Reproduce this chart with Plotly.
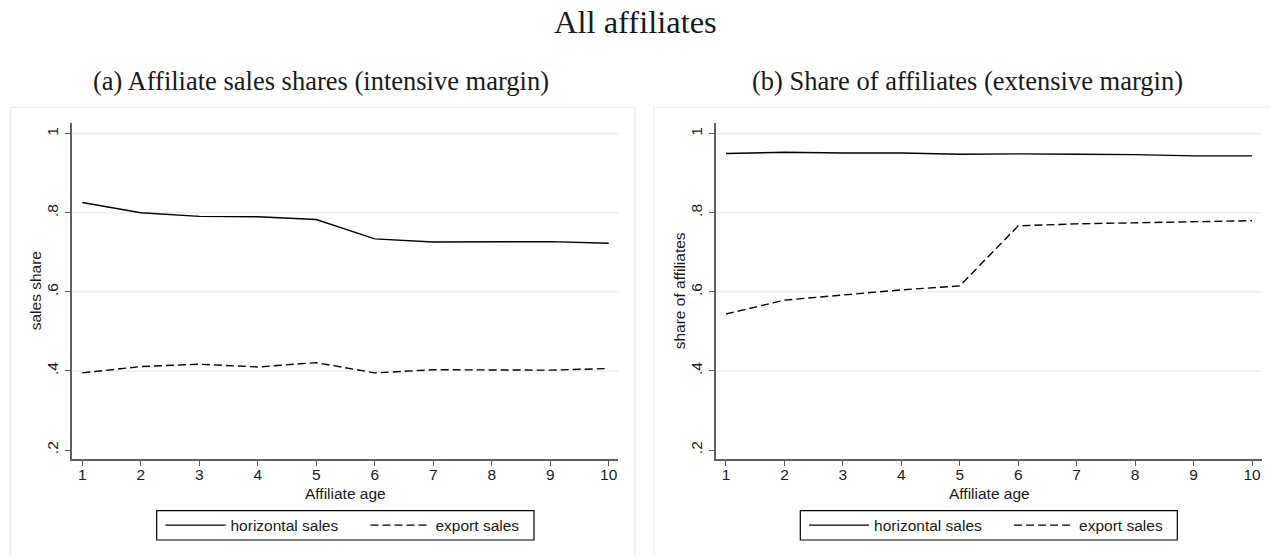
import plotly.graph_objects as go

# ---------------- data ----------------
ages = [1, 2, 3, 4, 5, 6, 7, 8, 9, 10]
sales_horizontal = [0.826, 0.800, 0.791, 0.790, 0.783, 0.734, 0.726, 0.726, 0.727, 0.723]
sales_export = [0.395, 0.411, 0.417, 0.410, 0.421, 0.395, 0.403, 0.402, 0.402, 0.406]
aff_horizontal = [0.950, 0.953, 0.951, 0.951, 0.948, 0.949, 0.948, 0.947, 0.944, 0.944]
aff_export = [0.544, 0.579, 0.592, 0.605, 0.615, 0.767, 0.772, 0.775, 0.777, 0.780]
series_names = ["horizontal sales", "export sales"]
y_ticks = [0.2, 0.4, 0.6, 0.8, 1.0]
y_tick_labels = [".2", ".4", ".6", ".8", "1"]
x_ticks = ages
main_title = "All affiliates"
panel_titles = ["(a) Affiliate sales shares (intensive margin)",
                "(b) Share of affiliates (extensive margin)"]
y_titles = ["sales share", "share of affiliates"]
x_title = "Affiliate age"

# ---------------- layout helpers ----------------
W, H = 1270, 556
def px(x):
    return x / W
def py(y):
    return 1 - y / H

SANS = "Liberation Sans"
SERIF = "Liberation Serif"
AXC = "#5f5f5f"
GRID = "#e8efef"
TXT = "#1a1a1a"
FS = 15.5
DASH = "8px,4px"

fig = go.Figure()

panels = [
    dict(xa="x", ya="y", leg="legend", h=sales_horizontal, e=sales_export),
    dict(xa="x2", ya="y2", leg="legend2", h=aff_horizontal, e=aff_export),
]
for p in panels:
    fig.add_trace(go.Scatter(x=ages, y=p["h"], mode="lines", name=series_names[0],
                             line=dict(color="black", width=1.4), xaxis=p["xa"], yaxis=p["ya"],
                             legend=p["leg"]))
    fig.add_trace(go.Scatter(x=ages, y=p["e"], mode="lines", name=series_names[1],
                             line=dict(color="black", width=1.4, dash=DASH),
                             xaxis=p["xa"], yaxis=p["ya"], legend=p["leg"]))

xcommon = dict(tickmode="array", tickvals=x_ticks, ticktext=[str(v) for v in x_ticks],
               showline=True, linecolor=AXC, linewidth=1.6, ticks="outside", ticklen=5,
               tickwidth=1.3, tickcolor=AXC, showgrid=False, zeroline=False,
               ticklabelstandoff=-5,
               tickfont=dict(family=SANS, size=FS, color=TXT))
ycommon = dict(tickmode="array", tickvals=y_ticks, ticktext=y_tick_labels, tickangle=-90,
               showline=True, linecolor=AXC, linewidth=1.6, ticks="outside", ticklen=5,
               tickwidth=1.3, tickcolor=AXC, showgrid=False, zeroline=False,
               ticklabelstandoff=1,
               range=[0.1765, 1.0263], domain=[py(459.3), py(123.3)],
               tickfont=dict(family=SANS, size=FS, color=TXT))

fig.update_layout(
    width=W, height=H,
    margin=dict(l=0, r=0, t=0, b=0),
    paper_bgcolor="white", plot_bgcolor="white",
    xaxis=dict(domain=[px(71.7), px(618.3)], range=[0.819, 10.164], anchor="y", **xcommon),
    xaxis2=dict(domain=[px(716), px(1261.7)], range=[0.829, 10.166], anchor="y2", **xcommon),
    yaxis=dict(anchor="x", **ycommon),
    yaxis2=dict(anchor="x2", **ycommon),
)

legend_common = dict(orientation="h", xanchor="left", yanchor="top", y=py(508.5),
                     borderwidth=0, bgcolor="rgba(0,0,0,0)",
                     font=dict(family=SANS, size=FS, color=TXT), itemwidth=60,
                     entrywidth=130, entrywidthmode="pixels",
                     traceorder="normal", itemclick=False, itemdoubleclick=False)
fig.update_layout(
    legend=dict(x=px(160.5), **legend_common),
    legend2=dict(x=px(160.5 + 643.6), **legend_common),
)

# graph region outlines, legend frames and grid lines
shapes = []
for x0, x1 in [(10.7, 635), (654, 1285)]:
    shapes.append(dict(type="rect", xref="paper", yref="paper", x0=px(x0), x1=px(x1),
                       y0=py(107.3), y1=py(570), line=dict(color=GRID, width=1.2),
                       fillcolor="rgba(0,0,0,0)", layer="below"))
for x0, x1 in [(156.7, 534), (800.3, 1177.3)]:
    shapes.append(dict(type="rect", xref="paper", yref="paper", x0=px(x0), x1=px(x1),
                       y0=py(540), y1=py(510.7), line=dict(color="black", width=1.2),
                       fillcolor="white", layer="below"))
for xd, ya in [("x domain", "y"), ("x2 domain", "y2")]:
    for v in y_ticks[1:]:
        shapes.append(dict(type="line", xref=xd, yref=ya, x0=0, x1=1, y0=v, y1=v,
                           line=dict(color=GRID, width=1.5), layer="below"))
fig.update_layout(shapes=shapes)

ann = []
ann.append(dict(text=main_title, x=0.5, y=py(22), xref="paper", yref="paper",
                showarrow=False, font=dict(family=SERIF, size=32.5, color=TXT),
                xanchor="center", yanchor="middle"))
for cx, t in zip([321, 967], panel_titles):
    ann.append(dict(text=t, x=px(cx), y=py(81), xref="paper", yref="paper",
                    showarrow=False, font=dict(family=SERIF, size=26.5, color=TXT),
                    xanchor="center", yanchor="middle"))
for cx in [345, 989]:
    ann.append(dict(text=x_title, x=px(cx), y=py(493), xref="paper", yref="paper",
                    showarrow=False, font=dict(family=SANS, size=FS, color=TXT),
                    xanchor="center", yanchor="middle"))
for cx, t in zip([35, 679], y_titles):
    ann.append(dict(text=t, x=px(cx), y=py(291.3), xref="paper", yref="paper",
                    showarrow=False, textangle=-90, font=dict(family=SANS, size=FS, color=TXT),
                    xanchor="center", yanchor="middle"))
fig.update_layout(annotations=ann)

fig.write_html("out.html", config={"displayModeBar": False},
               post_script="document.body.style.margin='0';document.body.style.overflow='hidden';")
